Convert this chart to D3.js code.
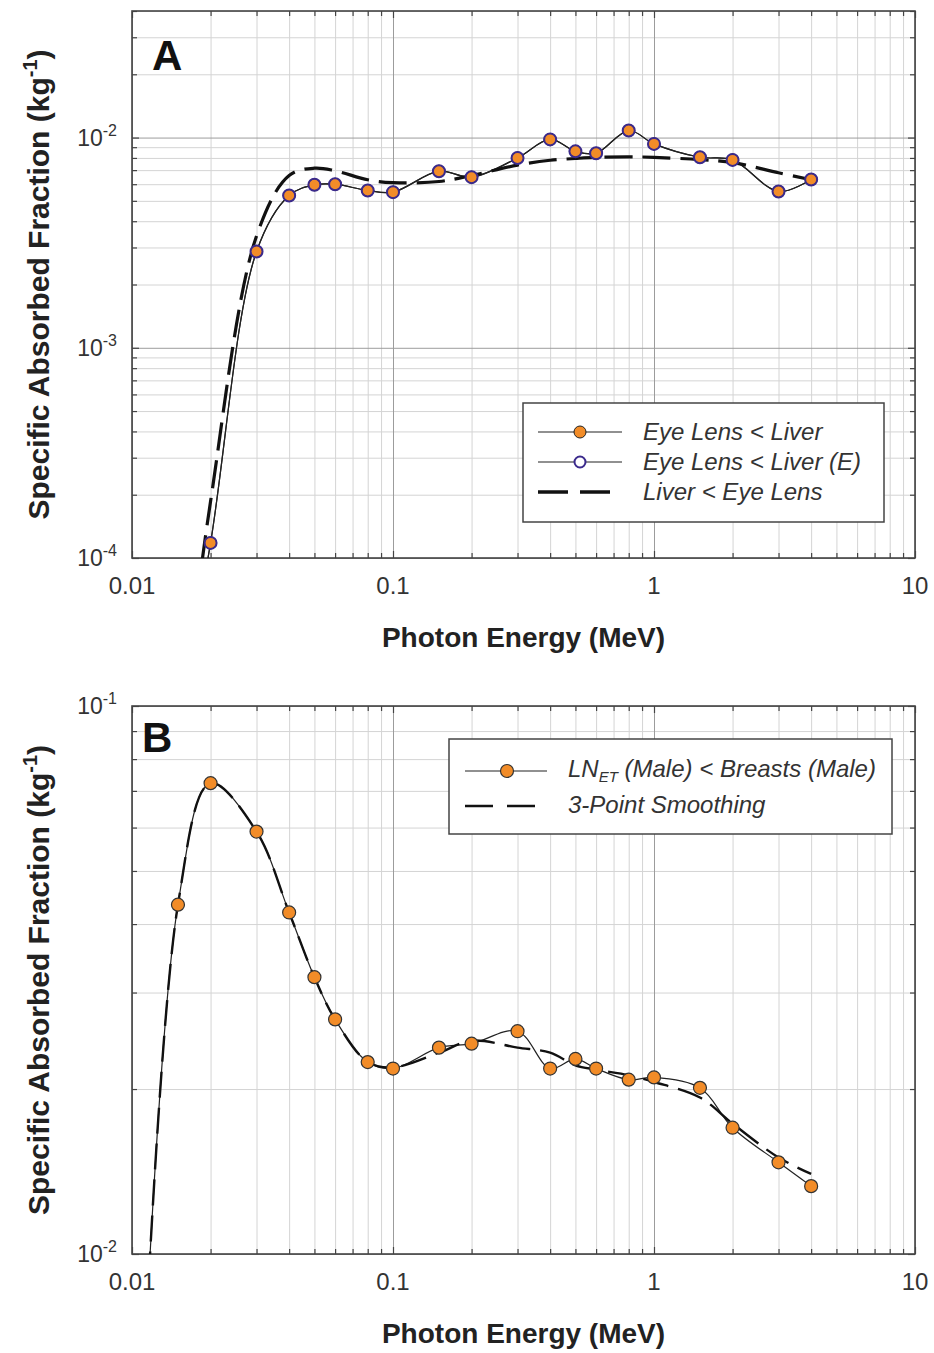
<!DOCTYPE html>
<html>
<head>
<meta charset="utf-8">
<script src="https://cdn.jsdelivr.net/npm/d3@7"></script>
<style>
  body { margin: 0; background: #fff; }
  svg { display: block; font-family: 'Liberation Sans', Arial, sans-serif; }
</style>
</head>
<body>
<svg id="chart" width="934" height="1353"></svg>
<script>
// Panel A data (photon energy in MeV, SAF in kg^-1)
const energyA = [0.015, 0.02, 0.03, 0.04, 0.05, 0.06, 0.08, 0.1, 0.15, 0.2, 0.3, 0.4, 0.5, 0.6, 0.8, 1, 1.5, 2, 3, 4];
const eyeLensLiver = [1.5e-5, 1.18e-4, 2.87e-3, 5.3e-3, 5.96e-3, 6.0e-3, 5.6e-3, 5.5e-3, 6.92e-3, 6.48e-3, 8.0e-3, 9.8e-3, 8.6e-3, 8.42e-3, 1.08e-2, 9.33e-3, 8.06e-3, 7.83e-3, 5.54e-3, 6.32e-3];
const eyeLensLiverE = [1.5e-5, 1.18e-4, 2.87e-3, 5.3e-3, 5.96e-3, 6.0e-3, 5.6e-3, 5.5e-3, 6.92e-3, 6.48e-3, 8.0e-3, 9.8e-3, 8.6e-3, 8.42e-3, 1.08e-2, 9.33e-3, 8.06e-3, 7.83e-3, 5.54e-3, 6.32e-3];
const liverEyeLens = [1.2e-5, 1.86e-4, 3.4e-3, 6.6e-3, 7.15e-3, 6.95e-3, 6.3e-3, 6.1e-3, 6.18e-3, 6.6e-3, 7.4e-3, 7.8e-3, 7.95e-3, 8.05e-3, 8.1e-3, 8.05e-3, 7.85e-3, 7.6e-3, 6.8e-3, 6.3e-3];

// Panel B data
const energyB = [0.01, 0.015, 0.02, 0.03, 0.04, 0.05, 0.06, 0.08, 0.1, 0.15, 0.2, 0.3, 0.4, 0.5, 0.6, 0.8, 1, 1.5, 2, 3, 4];
const lnBreasts = [0.002, 0.0434, 0.0723, 0.059, 0.042, 0.032, 0.0268, 0.0224, 0.0218, 0.0238, 0.0242, 0.0255, 0.0218, 0.0227, 0.0218, 0.0208, 0.021, 0.0201, 0.017, 0.0147, 0.0133];
const smoothing = [0.002, 0.0434, 0.0723, 0.059, 0.042, 0.032, 0.0268, 0.0224, 0.0219, 0.0233, 0.0245, 0.0238, 0.0233, 0.0221, 0.0217, 0.0212, 0.0206, 0.0193, 0.0173, 0.015, 0.014];

const xLabels = [0.01, 0.1, 1, 10];
const yDecadesA = [-4, -3, -2];
const yDecadesB = [-2, -1];

const ORANGE = '#f28c28', PURPLE = '#3b2a8c', INK = '#222';

const svg = d3.select('#chart');

const isDecade = (v) => Math.abs(Math.log10(v) - Math.round(Math.log10(v))) < 1e-6;

function drawPanel(p) {
  const g = svg.append('g');
  const x = d3.scaleLog().domain([0.01, 10]).range([p.left, p.right]);
  const y = d3.scaleLog().domain(p.yDomain).range([p.bottom, p.top]);
  const w = p.right - p.left, h = p.bottom - p.top;

  const xt = x.ticks(), yt = y.ticks();
  const xMinor = xt.filter((d) => !isDecade(d)), xMajor = xt.filter(isDecade);
  const yMinor = yt.filter((d) => !isDecade(d)), yMajor = yt.filter(isDecade);

  // grid
  const grid = (axis, tr, vals, size, color) => {
    g.append('g')
      .attr('transform', tr)
      .call(axis.tickValues(vals).tickSize(size).tickFormat(''))
      .call((a) => a.select('.domain').remove())
      .selectAll('line')
      .attr('stroke', color)
      .attr('stroke-width', 1);
  };
  grid(d3.axisBottom(x), `translate(0,${p.bottom})`, xMinor, -h, '#d4d4d4');
  grid(d3.axisLeft(y), `translate(${p.left},0)`, yMinor, -w, '#d4d4d4');
  grid(d3.axisBottom(x), `translate(0,${p.bottom})`, xMajor, -h, '#9c9c9c');
  grid(d3.axisLeft(y), `translate(${p.left},0)`, yMajor, -w, '#9c9c9c');

  // inward ticks on all four sides
  const ticks = (axis, tr, vals, size) => {
    g.append('g')
      .attr('transform', tr)
      .call(axis.tickValues(vals).tickSize(size).tickFormat(''))
      .call((a) => a.select('.domain').remove())
      .selectAll('line')
      .attr('stroke', '#444')
      .attr('stroke-width', 1.2);
  };
  ticks(d3.axisBottom(x), `translate(0,${p.bottom})`, xMinor, -5);
  ticks(d3.axisBottom(x), `translate(0,${p.bottom})`, xMajor, -7);
  ticks(d3.axisTop(x), `translate(0,${p.top})`, xMinor, -5);
  ticks(d3.axisTop(x), `translate(0,${p.top})`, xMajor, -7);
  ticks(d3.axisLeft(y), `translate(${p.left},0)`, yMinor, -5);
  ticks(d3.axisLeft(y), `translate(${p.left},0)`, yMajor, -7);
  ticks(d3.axisRight(y), `translate(${p.right},0)`, yMinor, -5);
  ticks(d3.axisRight(y), `translate(${p.right},0)`, yMajor, -7);

  // frame
  g.append('rect')
    .attr('x', p.left).attr('y', p.top)
    .attr('width', w).attr('height', h)
    .attr('fill', 'none').attr('stroke', '#444').attr('stroke-width', 1.6);

  // x tick labels
  g.selectAll('.xlab').data(xLabels).join('text')
    .attr('x', (d) => x(d)).attr('y', p.bottom + 36)
    .attr('text-anchor', 'middle').attr('font-size', 24).attr('fill', '#333')
    .text((d) => d3.format('~g')(d));

  // y tick labels 10^n
  const yl = g.selectAll('.ylab').data(p.decades).join('text')
    .attr('x', p.left - 15).attr('y', (d) => y(Math.pow(10, d)) + 8)
    .attr('text-anchor', 'end').attr('font-size', 23).attr('fill', '#333');
  yl.append('tspan').text('10');
  yl.append('tspan').attr('font-size', 16).attr('dy', -10).text((d) => d);

  // axis titles
  g.append('text')
    .attr('x', (p.left + p.right) / 2).attr('y', p.bottom + 89)
    .attr('text-anchor', 'middle').attr('font-size', 28).attr('font-weight', 'bold').attr('fill', INK)
    .text('Photon Energy (MeV)');

  const yt2 = g.append('text')
    .attr('transform', `translate(49,${(p.top + p.bottom) / 2}) rotate(-90)`)
    .attr('text-anchor', 'middle').attr('font-size', 30).attr('font-weight', 'bold').attr('fill', INK);
  yt2.append('tspan').text('Specific Absorbed Fraction (kg');
  yt2.append('tspan').attr('font-size', 20).attr('dy', -12).text('-1');
  yt2.append('tspan').attr('dy', 12).text(')');

  // panel letter
  g.append('text')
    .attr('x', p.letterX).attr('y', p.letterY)
    .attr('font-size', 42).attr('font-weight', 'bold').attr('fill', '#111')
    .text(p.letter);

  // clip for data
  const clipId = 'clip' + p.letter;
  svg.append('clipPath').attr('id', clipId)
    .append('rect').attr('x', p.left).attr('y', p.top).attr('width', w).attr('height', h);
  const data = g.append('g').attr('clip-path', `url(#${clipId})`);

  const line = d3.line()
    .x((d) => x(d[0])).y((d) => y(d[1]))
    .curve(d3.curveCatmullRom.alpha(0.5));

  return { g, x, y, data, line };
}

// ---------- Panel A ----------
const A = drawPanel({
  letter: 'A', letterX: 152, letterY: 70,
  left: 132, right: 915, top: 11, bottom: 558,
  yDomain: [1e-4, 4e-2], decades: yDecadesA,
});
const ptsA1 = energyA.map((e, i) => [e, eyeLensLiver[i]]);
const ptsA2 = energyA.map((e, i) => [e, eyeLensLiverE[i]]);
const ptsA3 = energyA.map((e, i) => [e, liverEyeLens[i]]);

A.data.append('path').datum(ptsA1).attr('d', A.line)
  .attr('fill', 'none').attr('stroke', INK).attr('stroke-width', 1.2);
A.data.append('path').datum(ptsA2).attr('d', A.line)
  .attr('fill', 'none').attr('stroke', INK).attr('stroke-width', 1.2);
A.data.append('path').datum(ptsA3).attr('d', A.line)
  .attr('fill', 'none').attr('stroke', '#111').attr('stroke-width', 3.2)
  .attr('stroke-dasharray', '28,10');
A.data.selectAll('.ma').data(ptsA1).join('circle')
  .attr('cx', (d) => A.x(d[0])).attr('cy', (d) => A.y(d[1])).attr('r', 6)
  .attr('fill', ORANGE).attr('stroke', INK).attr('stroke-width', 1);
A.data.selectAll('.mb').data(ptsA2).join('circle')
  .attr('cx', (d) => A.x(d[0])).attr('cy', (d) => A.y(d[1])).attr('r', 6)
  .attr('fill', 'none').attr('stroke', PURPLE).attr('stroke-width', 2);

// legend A
const legA = A.g.append('g');
legA.append('rect').attr('x', 523).attr('y', 403).attr('width', 361).attr('height', 119)
  .attr('fill', '#fff').attr('stroke', '#444').attr('stroke-width', 1.5);
const legAItems = [
  { label: 'Eye Lens < Liver', kind: 'filled', cy: 432 },
  { label: 'Eye Lens < Liver (E)', kind: 'open', cy: 462 },
  { label: 'Liver < Eye Lens', kind: 'dash', cy: 492 },
];
legAItems.forEach((it) => {
  if (it.kind === 'dash') {
    legA.append('line').attr('x1', 538).attr('x2', 610).attr('y1', it.cy).attr('y2', it.cy)
      .attr('stroke', '#111').attr('stroke-width', 3.5).attr('stroke-dasharray', '30,12');
  } else {
    legA.append('line').attr('x1', 538).attr('x2', 622).attr('y1', it.cy).attr('y2', it.cy)
      .attr('stroke', INK).attr('stroke-width', 1.2);
    legA.append('circle').attr('cx', 580).attr('cy', it.cy).attr('r', it.kind === 'open' ? 5.5 : 6)
      .attr('fill', it.kind === 'open' ? '#fff' : ORANGE)
      .attr('stroke', it.kind === 'open' ? PURPLE : INK)
      .attr('stroke-width', it.kind === 'open' ? 2 : 1);
  }
  legA.append('text').attr('x', 643).attr('y', it.cy + 8)
    .attr('font-size', 24).attr('font-style', 'italic').attr('fill', '#333')
    .text(it.label);
});

// ---------- Panel B ----------
const B = drawPanel({
  letter: 'B', letterX: 142, letterY: 752,
  left: 132, right: 915, top: 706, bottom: 1254,
  yDomain: [1e-2, 1e-1], decades: yDecadesB,
});
const ptsB1 = energyB.map((e, i) => [e, lnBreasts[i]]);
const ptsB2 = energyB.map((e, i) => [e, smoothing[i]]);

B.data.append('path').datum(ptsB1).attr('d', B.line)
  .attr('fill', 'none').attr('stroke', INK).attr('stroke-width', 1.2);
B.data.append('path').datum(ptsB2).attr('d', B.line)
  .attr('fill', 'none').attr('stroke', '#111').attr('stroke-width', 2.4)
  .attr('stroke-dasharray', '26,10');
B.data.selectAll('.mc').data(ptsB1).join('circle')
  .attr('cx', (d) => B.x(d[0])).attr('cy', (d) => B.y(d[1])).attr('r', 6.5)
  .attr('fill', ORANGE).attr('stroke', '#333').attr('stroke-width', 1.2);

// legend B
const legB = B.g.append('g');
legB.append('rect').attr('x', 449).attr('y', 739).attr('width', 443).attr('height', 95)
  .attr('fill', '#fff').attr('stroke', '#444').attr('stroke-width', 1.5);
legB.append('line').attr('x1', 465).attr('x2', 547).attr('y1', 771).attr('y2', 771)
  .attr('stroke', INK).attr('stroke-width', 1.2);
legB.append('circle').attr('cx', 507).attr('cy', 771).attr('r', 6.5)
  .attr('fill', ORANGE).attr('stroke', '#333').attr('stroke-width', 1.2);
legB.append('line').attr('x1', 465).attr('x2', 535).attr('y1', 806).attr('y2', 806)
  .attr('stroke', '#111').attr('stroke-width', 2.6).attr('stroke-dasharray', '28,14');
const lb1 = legB.append('text').attr('x', 568).attr('y', 777)
  .attr('font-size', 24).attr('font-style', 'italic').attr('fill', '#333');
lb1.append('tspan').text('LN');
lb1.append('tspan').attr('font-size', 15).attr('dy', 5).text('ET');
lb1.append('tspan').attr('dy', -5).text(' (Male) < Breasts (Male)');
legB.append('text').attr('x', 568).attr('y', 813)
  .attr('font-size', 24).attr('font-style', 'italic').attr('fill', '#333')
  .text('3-Point Smoothing');
</script>
</body>
</html>
